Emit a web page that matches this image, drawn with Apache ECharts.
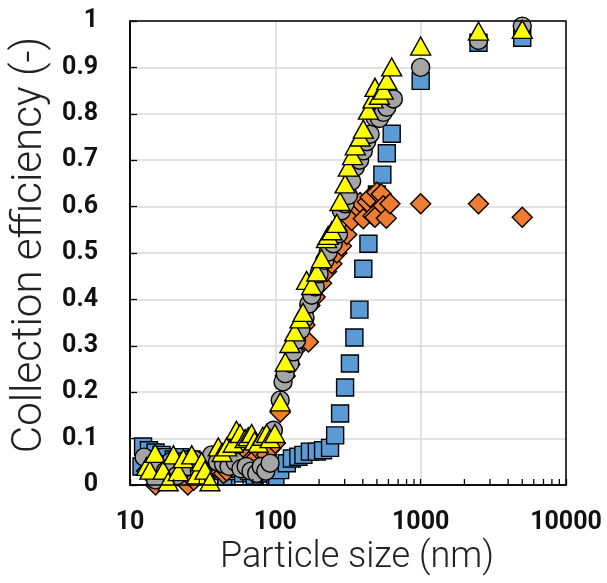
<!DOCTYPE html>
<html>
<head>
<meta charset="utf-8">
<script src="https://cdn.jsdelivr.net/npm/echarts@6/dist/echarts.min.js"></script>
<style>html,body{margin:0;padding:0;background:#fff}#c{width:607px;height:583px}</style>
</head>
<body>
<div id="c"></div>
<script>
// x: particle size (nm), y: collection efficiency (-)
const blueSquares = [[12,0.04],[12.3,0.083],[13.5,0.075],[15,0.07],[16.5,0.065],[18,0.06],[20,0.055],[22,0.06],[24,0.05],[26.5,0.055],[29,0.05],[32,0.045],[35,0.04],[38.5,0.03],[42,0.035],[46,0.018],[50,0.03],[55,0.035],[60,0.025],[66,0.03],[72,0.02],[79,0.025],[86,0.025],[94,0.035],[100,0.018],[108,0.032],[120,0.047],[130,0.057],[144,0.061],[156,0.065],[173,0.072],[193,0.072],[213,0.075],[238,0.08],[258,0.107],[279,0.154],[302,0.21],[326,0.262],[350,0.318],[379,0.378],[403,0.466],[437,0.52],[470,0.585],[500,0.626],[545,0.669],[585,0.715],[632,0.757],[1000,0.871],[2500,0.953],[5000,0.964]];
const orangeDiamonds = [[13,0.03],[15,0.0],[16,0.035],[17.5,0.01],[19,0.04],[21,0.02],[23,0.035],[25,0.0],[27.5,0.01],[30,0.03],[33,0.04],[36,0.035],[40,0.05],[44,0.025],[46.3,0.03],[53,0.05],[58,0.055],[63,0.06],[68,0.055],[74,0.06],[80,0.07],[87,0.065],[94,0.08],[100,0.09],[108,0.157],[117,0.235],[126,0.26],[136,0.29],[148,0.32],[160,0.345],[169,0.308],[173,0.387],[188,0.405],[208,0.435],[225,0.46],[245,0.477],[265,0.5],[285,0.515],[310,0.54],[335,0.57],[363,0.6],[383,0.609],[403,0.574],[430,0.61],[449,0.62],[470,0.58],[485,0.577],[499,0.631],[536,0.627],[553,0.602],[580,0.575],[615,0.606],[1000,0.606],[2500,0.606],[5000,0.577]];
const grayCircles = [[12.5,0.06],[13.5,0.03],[15,0.011],[16,0.045],[17.5,0.03],[19,0.05],[21,0.02],[23,0.05],[25,0.04],[27.5,0.055],[30,0.03],[33,0.045],[36.5,0.065],[40,0.05],[44,0.045],[48,0.04],[53,0.05],[58,0.035],[63,0.04],[68,0.03],[74.5,0.025],[80,0.04],[86,0.03],[92,0.047],[97,0.118],[108,0.183],[113,0.222],[117,0.24],[126,0.262],[133,0.287],[140,0.312],[150,0.335],[160,0.36],[170,0.39],[178,0.409],[188,0.427],[200,0.455],[219,0.484],[231,0.502],[250,0.52],[272,0.541],[285,0.591],[302,0.606],[318,0.624],[335,0.655],[355,0.685],[380,0.7],[403,0.72],[425,0.74],[449,0.756],[485,0.792],[520,0.79],[553,0.803],[585,0.814],[649,0.832],[1000,0.9],[2500,0.958],[5000,0.989]];
const yellowTriangles = [[13,0.04],[13.7,0.032],[14.9,0.068],[16.9,0.032],[18.3,0.007],[19.9,0.065],[21.5,0.029],[23.3,0.057],[26.6,0.065],[28.8,0.022],[31.1,0.05],[32.8,0.032],[35.5,0.007],[40.5,0.082],[43,0.07],[46.3,0.082],[51.4,0.09],[54,0.118],[57.2,0.111],[62,0.1],[65.1,0.104],[68.7,0.111],[72,0.095],[76.3,0.09],[82,0.105],[87.1,0.111],[92,0.1],[99.3,0.111],[108,0.179],[117,0.265],[126,0.305],[136,0.33],[148,0.358],[155,0.372],[164,0.441],[178,0.43],[193,0.459],[208,0.488],[225,0.531],[231,0.538],[245,0.548],[265,0.564],[279,0.611],[302,0.649],[318,0.685],[340,0.71],[355,0.731],[383,0.75],[403,0.767],[437,0.808],[470,0.832],[485,0.857],[520,0.84],[553,0.851],[585,0.872],[632,0.901],[1000,0.946],[2500,0.978],[5000,0.982]];
const xMinorTicks = [20,30,40,50,60,70,80,90,200,300,400,500,600,700,800,900,2000,3000,4000,5000,6000,7000,8000,9000];

const chart = echarts.init(document.getElementById('c'), null, {renderer:'canvas'});
function sc(name, data, symbol, size, color){
  return {name, type:'scatter', data, symbol, symbolSize:size,
    itemStyle:{color, borderColor:'#000', borderWidth:1.4, opacity:1}};
}
chart.setOption({
  animation:false,
  backgroundColor:'#fff',
  grid:{left:130, right:41, top:21, bottom:98},
  xAxis:{type:'log', min:10, max:10000, logBase:10,
    name:'Particle size (nm)', nameLocation:'middle', nameGap:46,
    nameTextStyle:{fontFamily:'Roboto', fontWeight:300, fontSize:36, color:'#222', padding:[0,0,0,18]},
    axisLine:{lineStyle:{color:'#000', width:1.5}},
    axisTick:{show:true, inside:true, length:6, lineStyle:{color:'#000', width:1.3}},
    axisLabel:{fontFamily:'Roboto', fontWeight:'bold', fontSize:25, color:'#111', margin:25,
      formatter: v => String(v)},
    splitLine:{show:true, lineStyle:{color:'#d9d9d9', width:1.5}}
  },
  yAxis:{type:'value', min:0, max:1, interval:0.1,
    name:'Collection efficiency (-)', nameLocation:'middle', nameGap:76,
    nameTextStyle:{fontFamily:'Roboto', fontWeight:300, fontSize:42, color:'#222', padding:[0,0,0,16]},
    axisLine:{lineStyle:{color:'#000', width:1.5}},
    axisTick:{show:true, inside:true, length:7, lineStyle:{color:'#000', width:1.3}},
    axisLabel:{fontFamily:'Roboto', fontWeight:'bold', fontSize:25, color:'#111', margin:32},
    splitLine:{show:true, lineStyle:{color:'#d9d9d9', width:1.5}}
  },
  series:[
    sc('Squares', blueSquares, 'rect', 17, '#5b9bd5'),
    sc('Diamonds', orangeDiamonds, 'diamond', 20, '#ed7d31'),
    sc('Circles', grayCircles, 'circle', 18, '#a5a5a5'),
    sc('Triangles', yellowTriangles, 'triangle', [20,18], '#ffff00')
  ]
});
const g = [];
xMinorTicks.forEach(v => {
  const p = chart.convertToPixel({gridIndex:0}, [v, 0]);
  g.push({type:'line', shape:{x1:p[0], y1:p[1], x2:p[0], y2:p[1]-6}, style:{stroke:'#000', lineWidth:1.3}, z:10});
});
const p0 = chart.convertToPixel({gridIndex:0}, [10, 0]);
const p1 = chart.convertToPixel({gridIndex:0}, [10000, 1]);
g.push({type:'rect', shape:{x:p0[0], y:p1[1], width:p1[0]-p0[0], height:p0[1]-p1[1]},
  style:{fill:'none', stroke:'#000', lineWidth:1.5}, z:5, silent:true});
chart.setOption({graphic:g});
</script>
</body>
</html>
